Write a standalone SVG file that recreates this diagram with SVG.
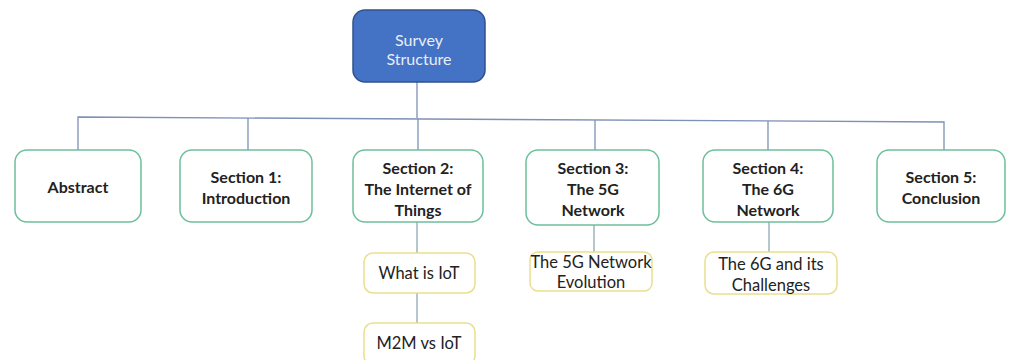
<svg xmlns="http://www.w3.org/2000/svg" width="1012" height="360" viewBox="0 0 1012 360">
<style>
.sec{fill:#fff;stroke:#6DBF9B;stroke-width:1.5}
.sub{fill:#fff;stroke:#EADF8C;stroke-width:1.5}
.root{fill:#4472C4;stroke:#2F528F;stroke-width:1.5}
.bt{font-family:Lato,"Open Sans",sans-serif;font-weight:bold;font-size:16px;fill:#222;text-anchor:middle}
.nt{font-family:Lato,"Open Sans",sans-serif;font-size:16.5px;fill:#222;text-anchor:middle}
.wt{font-family:Lato,"Open Sans",sans-serif;font-size:16px;fill:#E8EDF7;text-anchor:middle}
.bus{stroke:#7D90B6;stroke-width:1.3;fill:none}
.lnk{stroke:#8EA7B2;stroke-width:1.3;fill:none}
</style>
<rect width="1012" height="360" fill="#fff"/>
<g id="connectors">
<line class="bus" x1="417" y1="82" x2="417" y2="118"/>
<polyline class="bus" points="78,150 78,117 944,122 944,150"/>
<line class="bus" x1="248" y1="117.9" x2="248" y2="150"/>
<line class="bus" x1="418" y1="118.9" x2="418" y2="150"/>
<line class="bus" x1="595" y1="119.9" x2="595" y2="150"/>
<line class="bus" x1="768" y1="120.9" x2="768" y2="150"/>
<line class="lnk" x1="417" y1="222" x2="417" y2="253"/>
<line class="lnk" x1="417" y1="293" x2="417" y2="323"/>
<line class="lnk" x1="594" y1="225" x2="594" y2="252"/>
<line class="lnk" x1="769" y1="222" x2="769" y2="252"/>
</g>
<g id="root">
<rect class="root" x="353" y="10" width="132" height="72" rx="12"/>
<text class="wt" x="419" y="46">Survey</text>
<text class="wt" x="419" y="65">Structure</text>
</g>
<g id="abstract">
<rect class="sec" x="15" y="150" width="126" height="72" rx="12"/>
<text class="bt" x="78" y="193">Abstract</text>
</g>
<g id="section1">
<rect class="sec" x="180" y="150" width="132" height="72" rx="12"/>
<text class="bt" x="246" y="183">Section 1:</text>
<text class="bt" x="246" y="204">Introduction</text>
</g>
<g id="section2">
<rect class="sec" x="353" y="150" width="130" height="72" rx="12"/>
<text class="bt" x="418" y="174">Section 2:</text>
<text class="bt" x="418" y="195">The Internet of</text>
<text class="bt" x="418" y="216">Things</text>
</g>
<g id="section3">
<rect class="sec" x="526" y="150" width="133" height="75" rx="12"/>
<text class="bt" x="593" y="174">Section 3:</text>
<text class="bt" x="593" y="195">The 5G</text>
<text class="bt" x="593" y="216">Network</text>
</g>
<g id="section4">
<rect class="sec" x="703" y="150" width="130" height="72" rx="12"/>
<text class="bt" x="768" y="174">Section 4:</text>
<text class="bt" x="768" y="195">The 6G</text>
<text class="bt" x="768" y="216">Network</text>
</g>
<g id="section5">
<rect class="sec" x="877" y="150" width="128" height="72" rx="12"/>
<text class="bt" x="941" y="183">Section 5:</text>
<text class="bt" x="941" y="204">Conclusion</text>
</g>
<g id="whatisiot">
<rect class="sub" x="364" y="253" width="111" height="40" rx="9"/>
<text class="nt" x="419" y="279">What is IoT</text>
</g>
<g id="m2m">
<rect class="sub" x="364" y="323" width="111" height="42" rx="9"/>
<text class="nt" x="419" y="349">M2M vs IoT</text>
</g>
<g id="evolution5g">
<rect class="sub" x="530" y="252" width="122" height="39" rx="8"/>
<text class="nt" x="591" y="268">The 5G Network</text>
<text class="nt" x="591" y="288">Evolution</text>
</g>
<g id="challenges6g">
<rect class="sub" x="705" y="252" width="132" height="42" rx="9"/>
<text class="nt" x="771" y="270">The 6G and its</text>
<text class="nt" x="771" y="291">Challenges</text>
</g>
</svg>
